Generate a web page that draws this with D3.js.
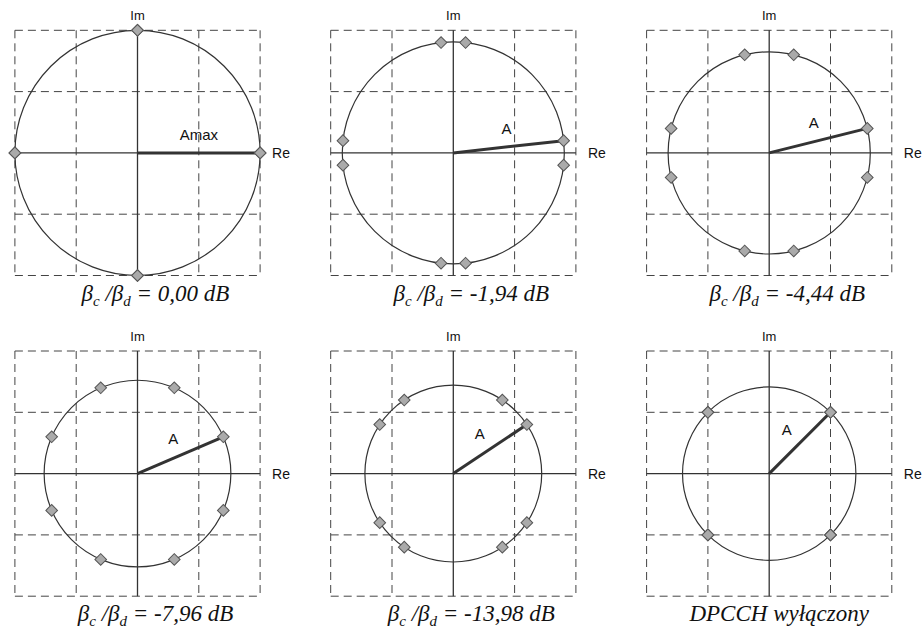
<!DOCTYPE html>
<html>
<head>
<meta charset="utf-8">
<script src="https://cdn.jsdelivr.net/npm/d3@7"></script>
<style>
  html, body { margin: 0; padding: 0; background: #fff; }
  svg { display: block; }
</style>
</head>
<body>
<svg id="chart" width="922" height="634"></svg>
<script>
// ---- data ----
const ratioDb   = ["0,00", "-1,94", "-4,44", "-7,96", "-13,98", null]; // βc/βd in dB (null = DPCCH off)
const pointRe   = [2.0, 1.8, 1.6, 1.4, 1.2, 1.0];   // first-quadrant constellation point, Re
const pointIm   = [0.0, 0.2, 0.4, 0.6, 0.8, 1.0];   // first-quadrant constellation point, Im
const vecLabels = ["Amax", "A", "A", "A", "A", "A"];
const offCaption = "DPCCH wyłączony";
const gridTicks = [-2, -1, 0, 1, 2];

// ---- layout ----
const svg = d3.select("#chart");
const colCenters = [137.5, 453.3, 769.2];
const rowCenters = [152.9, 473.6];
const half = 122.6;

const gridColor = "#444";
const lineColor = "#333";

ratioDb.forEach((db, i) => {
  const cx = colCenters[i % 3], cy = rowCenters[Math.floor(i / 3)];
  const x = d3.scaleLinear().domain([-2, 2]).range([cx - half, cx + half]);
  const y = d3.scaleLinear().domain([-2, 2]).range([cy + half, cy - half]);
  const g = svg.append("g");

  // dashed grid
  g.selectAll(".vg").data(gridTicks.filter(t => t !== 0)).join("line")
    .attr("x1", d => x(d)).attr("x2", d => x(d))
    .attr("y1", y(2)).attr("y2", y(-2))
    .attr("stroke", gridColor).attr("stroke-width", 1).attr("stroke-dasharray", "8,5");
  g.selectAll(".hg").data(gridTicks.filter(t => t !== 0)).join("line")
    .attr("y1", d => y(d)).attr("y2", d => y(d))
    .attr("x1", x(-2)).attr("x2", x(2))
    .attr("stroke", gridColor).attr("stroke-width", 1).attr("stroke-dasharray", "8,5");

  // axes
  g.append("line").attr("x1", x(-2)).attr("x2", x(2)).attr("y1", y(0)).attr("y2", y(0))
    .attr("stroke", lineColor).attr("stroke-width", 1.3);
  g.append("line").attr("x1", x(0)).attr("x2", x(0)).attr("y1", y(2)).attr("y2", y(-2))
    .attr("stroke", lineColor).attr("stroke-width", 1.3);

  // circle through the constellation points
  const px = pointRe[i], py = pointIm[i];
  const r = Math.hypot(px, py);
  g.append("circle").attr("cx", x(0)).attr("cy", y(0)).attr("r", x(r) - x(0))
    .attr("fill", "none").attr("stroke", lineColor).attr("stroke-width", 1.2);

  // vector A
  g.append("line").attr("x1", x(0)).attr("y1", y(0)).attr("x2", x(px)).attr("y2", y(py))
    .attr("stroke", lineColor).attr("stroke-width", 3);

  // constellation points (8-fold symmetry)
  const pts = [];
  [[px, py], [py, px]].forEach(([a, b]) => {
    [[a, b], [-a, b], [a, -b], [-a, -b]].forEach(p => pts.push(p));
  });
  g.selectAll(".pt").data(pts).join("path")
    .attr("d", d3.symbol(d3.symbolSquare, 68))
    .attr("transform", d => `translate(${x(d[0])},${y(d[1])}) rotate(45)`)
    .attr("fill", "#aaa").attr("stroke", "#555").attr("stroke-width", 1);

  // vector label
  const ang = Math.atan2(py, px);
  const lx = px / 2 - Math.sin(ang) * 0.3, ly = py / 2 + Math.cos(ang) * 0.3;
  g.append("text").attr("x", x(lx)).attr("y", y(ly))
    .attr("text-anchor", "middle").attr("dominant-baseline", "central")
    .attr("font-family", "Liberation Sans, Arial, sans-serif").attr("font-size", 15)
    .attr("fill", "#111").text(vecLabels[i]);

  // axis names
  g.append("text").attr("x", x(0)).attr("y", y(2) - 10)
    .attr("text-anchor", "middle")
    .attr("font-family", "Liberation Sans, Arial, sans-serif").attr("font-size", 13)
    .attr("fill", "#111").text("Im");
  g.append("text").attr("x", x(2) + 12).attr("y", y(0) + 5)
    .attr("text-anchor", "start")
    .attr("font-family", "Liberation Sans, Arial, sans-serif").attr("font-size", 14)
    .attr("fill", "#111").text("Re");

  // caption
  const cap = g.append("text").attr("x", x(0) + (db === null ? 10 : 18)).attr("y", y(-2) + 25)
    .attr("text-anchor", "middle")
    .attr("font-family", "Liberation Serif, Times New Roman, serif")
    .attr("font-style", "italic").attr("font-size", 23).attr("fill", "#111");
  if (db === null) {
    cap.text(offCaption);
  } else {
    cap.append("tspan").text("β");
    cap.append("tspan").attr("font-size", 15).attr("dy", 5).text("c");
    cap.append("tspan").attr("dy", -5).text(" /β");
    cap.append("tspan").attr("font-size", 15).attr("dy", 5).text("d");
    cap.append("tspan").attr("dy", -5).text(" = " + db + " dB");
  }
});
</script>
</body>
</html>
